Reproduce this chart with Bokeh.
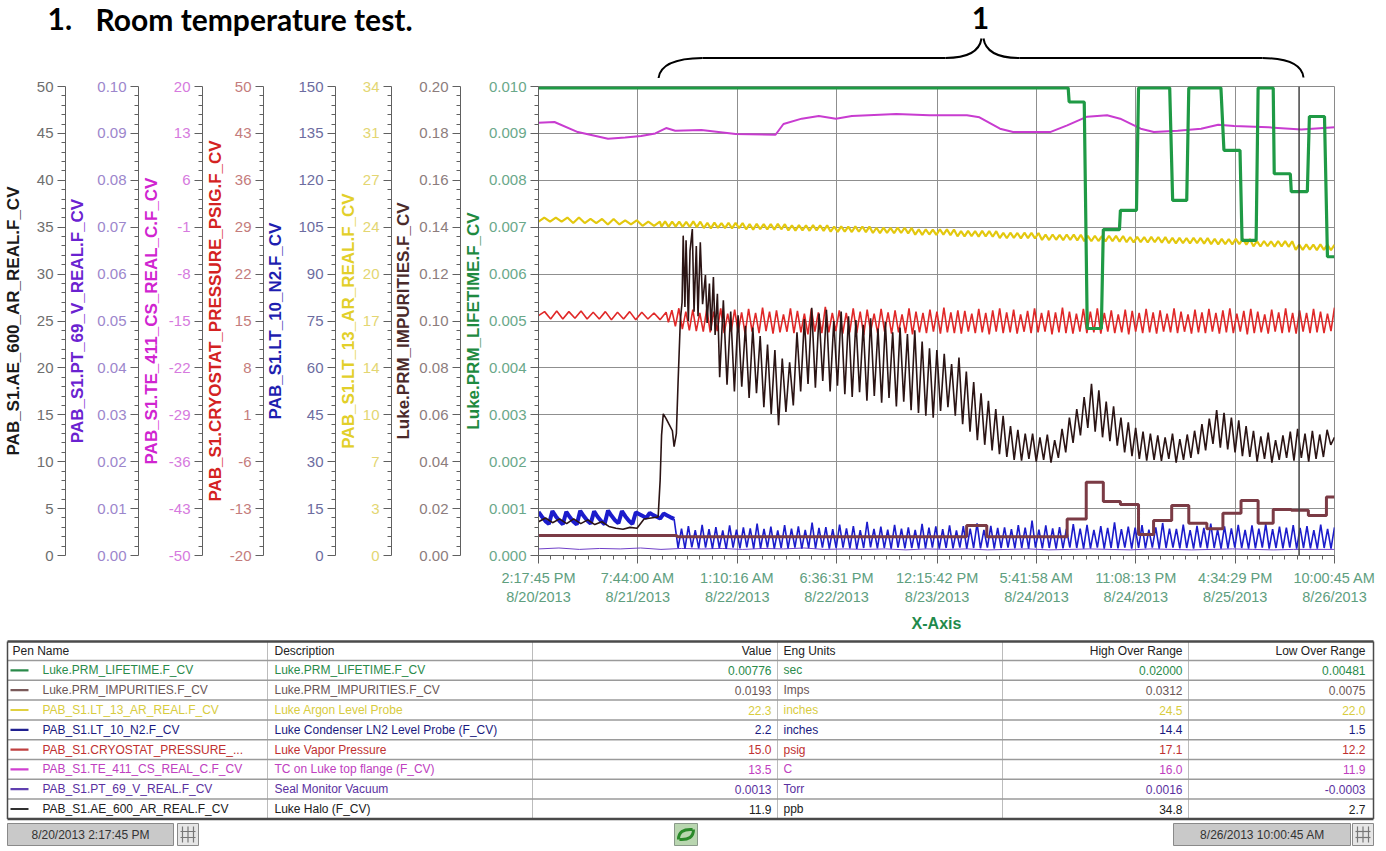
import numpy as np
import pandas as pd
from bokeh.plotting import figure
from bokeh.models import Range1d, LinearAxis, FixedTicker, Span
from bokeh.embed import file_html
from bokeh.resources import INLINE
from bokeh.core.properties import value

# ======================= DATA =======================
tick_times = ["8/20/2013 2:17:45 PM", "8/21/2013 7:44:00 AM", "8/22/2013 1:10:16 AM",
              "8/22/2013 6:36:31 PM", "8/23/2013 12:15:42 PM", "8/24/2013 5:41:58 AM",
              "8/24/2013 11:08:13 PM", "8/25/2013 4:34:29 PM", "8/26/2013 10:00:45 AM"]
cursor_hour = 133.5

ax_names = ["halo", "vac", "tc", "press", "ln2", "ar", "imp", "life"]
ax_titles = ["PAB_S1.AE_600_AR_REAL.F_CV", "PAB_S1.PT_69_V_REAL.F_CV", "PAB_S1.TE_411_CS_REAL_C.F_CV",
             "PAB_S1.CRYOSTAT_PRESSURE_PSIG.F_CV", "PAB_S1.LT_10_N2.F_CV", "PAB_S1.LT_13_AR_REAL.F_CV",
             "Luke.PRM_IMPURITIES.F_CV", "Luke.PRM_LIFETIME.F_CV"]
ax_min = [0, 0.0, -50, -20, 0, 0, 0.0, 0.0]
ax_max = [50, 0.10, 20, 50, 150, 34, 0.20, 0.010]
ax_tick_labels = [
    ["0", "5", "10", "15", "20", "25", "30", "35", "40", "45", "50"],
    ["0.00", "0.01", "0.02", "0.03", "0.04", "0.05", "0.06", "0.07", "0.08", "0.09", "0.10"],
    ["-50", "-43", "-36", "-29", "-22", "-15", "-8", "-1", "6", "13", "20"],
    ["-20", "-13", "-6", "1", "8", "15", "22", "29", "36", "43", "50"],
    ["0", "15", "30", "45", "60", "75", "90", "105", "120", "135", "150"],
    ["0", "3", "7", "10", "14", "17", "20", "24", "27", "31", "34"],
    ["0.00", "0.02", "0.04", "0.06", "0.08", "0.10", "0.12", "0.14", "0.16", "0.18", "0.20"],
    ["0.000", "0.001", "0.002", "0.003", "0.004", "0.005", "0.006", "0.007", "0.008", "0.009", "0.010"],
]

# Luke.PRM_LIFETIME.F_CV  (sec)
life_h = [0.0, 92.97, 93.14, 95.79, 96.32, 98.79, 99.14, 101.97, 102.14, 104.96, 105.32, 110.79,
          111.31, 113.78, 114.14, 119.78, 120.31, 123.13, 123.49, 125.96, 126.31, 128.96, 129.14,
          131.96, 132.13, 134.95, 135.31, 137.96, 138.48, 139.71]
life_v = [0.00997, 0.00997, 0.00967, 0.00967, 0.00484, 0.00484, 0.00695, 0.00695, 0.00736, 0.00736,
          0.00997, 0.00997, 0.00757, 0.00757, 0.00997, 0.00997, 0.00864, 0.00864, 0.00672, 0.00672,
          0.00997, 0.00997, 0.00814, 0.00814, 0.00776, 0.00776, 0.00936, 0.00936, 0.00637, 0.00637]

# Luke.PRM_IMPURITIES.F_CV  (Imps)
imp_h = [0.0, 24.3, 75.15, 78.68, 92.79, 96.14, 99.14, 102.14, 105.32, 107.96, 111.14, 114.14,
         117.31, 120.13, 123.31, 126.31, 128.96, 132.13, 135.13, 138.3, 139.71]
imp_v = [0.0085, 0.0080, 0.0128, 0.0080, 0.0156, 0.0312, 0.0230, 0.0217, 0.0090, 0.0149, 0.0213,
         0.0138, 0.0114, 0.0180, 0.0235, 0.0138, 0.0196, 0.0193, 0.0171, 0.0249, 0.0249]

# PAB_S1.TE_411_CS_REAL_C.F_CV  (C)
tc_h = [0.0, 2.8, 6.9, 12.2, 15.2, 18.0, 20.5, 22.4, 24.0, 28.6, 34.6, 41.6, 43.0, 46.2, 49.2, 52.2,
        55.0, 62.8, 68.6, 75.2, 77.4, 81.0, 83.3, 89.8, 92.8, 96.3, 99.8, 102.1, 105.7, 108.0, 112.2,
        116.3, 119.3, 122.1, 128.1, 133.9, 139.71]
tc_v = [14.6, 14.7, 13.2, 12.2, 12.4, 12.6, 13.0, 13.8, 13.4, 13.5, 12.9, 12.8, 14.4, 15.2, 15.6, 15.2,
        15.6, 15.9, 15.7, 15.7, 15.4, 13.7, 13.2, 13.2, 14.2, 15.5, 15.7, 15.2, 13.7, 13.2, 13.4,
        13.7, 14.3, 14.1, 13.9, 13.6, 13.9]

# PAB_S1.PT_69_V_REAL.F_CV  (Torr), evenly sampled over the whole span
vac_v = [0.0014, 0.0016, 0.0013, 0.0015, 0.0014, 0.0016, 0.0013, 0.0015, 0.0014, 0.0015,
         0.0013, 0.0015, 0.0014, 0.0016, 0.0013, 0.0014, 0.0013, 0.0014, 0.0012, 0.0014,
         0.0013, 0.0014, 0.0012, 0.0013, 0.0014, 0.0012, 0.0013, 0.0014, 0.0013, 0.0012,
         0.0014, 0.0013, 0.0012, 0.0013, 0.0014, 0.0013, 0.0012, 0.0013, 0.0013, 0.0013]

# PAB_S1.CRYOSTAT_PRESSURE_PSIG.F_CV  (psig)
press_a_span = (0.0, 22.4)
press_a = [15.8, 16.4, 15.3, 16.5, 15.3, 16.4, 15.4, 16.5, 15.3, 16.3, 15.3, 16.4, 15.2, 16.3, 15.3,
           16.4, 15.2, 16.3, 15.3, 16.2, 15.2, 16.3]
press_b_span = (22.8, 139.71)
press_b = [14.8, 16.6, 14.2, 16.9, 13.8, 16.4, 13.6, 16.7, 13.5, 16.2, 13.4, 16.8,
           13.3, 16.4, 13.5, 16.9, 13.2, 16.1, 13.4, 16.7, 13.3, 16.3, 13.1, 16.8,
           13.4, 16.2, 13.2, 17.0, 13.5, 16.4, 13.1, 16.6, 13.3, 16.0, 13.4, 16.9,
           13.2, 16.5, 13.3, 16.1, 13.0, 16.8, 13.4, 16.3, 13.2, 17.1, 13.3, 16.2,
           13.5, 16.6, 13.1, 16.2, 13.3, 16.9, 13.2, 16.4, 12.9, 16.7, 13.4, 16.1,
           13.2, 16.8, 13.4, 16.3, 13.1, 16.6, 13.3, 16.0, 13.2, 16.9, 13.0, 16.4,
           13.3, 16.2, 13.2, 16.7, 13.4, 16.4, 13.1, 17.0, 13.3, 16.3, 13.2, 16.6,
           13.1, 16.5, 13.4, 16.1, 13.2, 16.8, 13.3, 16.2, 13.0, 16.6, 13.4, 16.9,
           13.2, 16.3, 13.3, 16.7, 13.1, 16.0, 13.4, 16.5, 13.2, 16.9, 13.3, 16.2,
           13.4, 16.6, 13.0, 16.3, 13.3, 17.0, 13.2, 16.4, 13.1, 16.1, 13.4, 16.8,
           13.2, 16.4, 13.3, 16.9, 13.1, 16.2, 13.4, 16.6, 13.2, 16.0, 13.3, 16.7,
           13.0, 16.5, 13.4, 16.2, 13.2, 16.8, 13.3, 16.3, 13.1, 16.6, 13.4, 16.1,
           13.3, 16.9, 13.2, 16.4, 13.4, 16.0, 13.1, 16.7, 13.3, 16.3, 13.2, 16.8,
           13.4, 16.2, 13.1, 16.6, 13.3, 16.9, 13.2, 16.1, 13.4, 16.5, 13.0, 16.8,
           13.2, 16.4, 13.3, 16.0, 13.1, 16.7, 13.4, 16.3, 13.2, 16.9, 13.3, 16.2,
           13.1, 16.6, 13.4, 16.2, 13.2, 16.8, 13.3, 16.4, 13.2, 16.1, 13.5, 17.0]

# PAB_S1.LT_13_AR_REAL.F_CV  (inches)
ar_a_span = (0.0, 21.3)
ar_a = [24.2, 24.5, 24.2, 24.5, 24.2, 24.5, 24.1, 24.5, 24.1, 24.4, 24.1, 24.4, 24.0, 24.4, 24.0,
        24.3, 24.0, 24.3, 23.9, 24.2, 23.9, 24.2]
ar_b_span = (21.6, 139.71)
ar_b = [23.84, 24.22, 23.82, 24.20, 23.85, 24.21, 23.82, 24.19, 23.83, 24.22, 23.81, 24.20,
        23.74, 24.12, 23.72, 24.13, 23.75, 24.10, 23.73, 24.12, 23.71, 24.11, 23.74, 24.10,
        23.65, 24.03, 23.63, 24.04, 23.66, 24.02, 23.64, 24.03, 23.62, 24.04, 23.65, 24.02,
        23.56, 23.94, 23.55, 23.95, 23.57, 23.93, 23.54, 23.95, 23.56, 23.94, 23.53, 23.93,
        23.47, 23.85, 23.46, 23.86, 23.48, 23.84, 23.45, 23.86, 23.47, 23.85, 23.44, 23.84,
        23.38, 23.76, 23.37, 23.77, 23.39, 23.75, 23.36, 23.77, 23.38, 23.76, 23.35, 23.75,
        23.26, 23.64, 23.25, 23.65, 23.27, 23.63, 23.24, 23.65, 23.26, 23.64, 23.23, 23.63,
        23.14, 23.52, 23.13, 23.53, 23.15, 23.51, 23.12, 23.53, 23.14, 23.52, 23.11, 23.51,
        23.01, 23.39, 23.00, 23.40, 23.02, 23.38, 22.99, 23.40, 23.01, 23.39, 22.98, 23.38,
        22.88, 23.26, 22.87, 23.27, 22.89, 23.25, 22.86, 23.27, 22.88, 23.26, 22.85, 23.25,
        22.79, 23.17, 22.78, 23.18, 22.80, 23.16, 22.77, 23.18, 22.79, 23.17, 22.76, 23.16,
        22.71, 23.09, 22.70, 23.10, 22.72, 23.08, 22.69, 23.10, 22.71, 23.09, 22.68, 23.08,
        22.64, 23.02, 22.63, 23.03, 22.65, 23.01, 22.62, 23.03, 22.64, 23.02, 22.61, 23.01,
        22.57, 22.95, 22.56, 22.96, 22.58, 22.94, 22.55, 22.96, 22.57, 22.95, 22.54, 22.94,
        22.41, 22.79, 22.40, 22.80, 22.42, 22.78, 22.39, 22.80, 22.41, 22.79, 22.38, 22.78,
        22.16, 22.54, 22.15, 22.55, 22.17, 22.53, 22.14, 22.55, 22.16, 22.54, 22.13, 22.53]

# PAB_S1.LT_10_N2.F_CV  (inches)
ln2_a_span = (0.0, 23.8)
ln2_a = [13.9, 12.4, 11.0, 10.1, 14.2, 12.5, 11.1, 10.0, 14.0, 12.3, 10.9, 9.9, 14.3, 12.6, 11.2, 10.2,
         14.1, 12.4, 11.0, 10.0, 14.4, 12.7, 11.3, 10.3, 14.2, 12.5, 11.1, 10.1, 13.8, 13.2, 12.6, 12.0,
         13.6, 12.9, 12.4, 11.8, 13.4, 12.8, 12.2, 11.7]
ln2_b_span = (24.5, 139.71)
ln2_b = [2.4, 8.6, 2.2, 9.4, 2.6, 8.1, 2.3, 9.8, 2.5, 8.4, 2.2, 9.1,
         2.4, 8.0, 2.1, 9.6, 2.5, 8.3, 2.3, 9.0, 2.6, 8.7, 2.2, 10.2,
         2.3, 8.5, 2.5, 9.2, 2.2, 8.0, 2.4, 9.7, 2.3, 8.6, 2.5, 9.3,
         2.2, 8.2, 2.4, 10.5, 2.3, 8.8, 2.5, 9.1, 2.2, 8.4, 2.4, 9.9,
         2.5, 8.7, 2.3, 9.4, 2.1, 8.1, 2.4, 10.8, 2.6, 8.5, 2.3, 9.2,
         2.4, 8.3, 2.2, 9.8, 2.5, 8.6, 2.3, 9.0, 2.4, 8.2, 2.2, 10.1,
         2.3, 8.9, 2.5, 9.3, 2.2, 8.4, 2.4, 9.6, 2.3, 8.0, 2.5, 9.4,
         2.2, 8.6, 2.4, 10.3, 2.3, 8.2, 2.5, 9.5, 2.2, 8.8, 2.4, 9.0,
         2.5, 8.4, 2.3, 9.7, 2.4, 8.9, 2.2, 11.2, 2.5, 8.3, 2.3, 9.6,
         2.4, 8.7, 2.2, 9.1, 2.3, 8.5, 2.5, 10.0, 2.4, 8.6, 2.2, 9.8,
         2.3, 8.2, 2.5, 9.4, 2.2, 8.8, 2.4, 10.6, 2.3, 8.4, 2.5, 9.2,
         2.2, 8.9, 2.4, 9.7, 2.3, 8.3, 2.5, 9.0, 2.2, 10.4, 2.4, 8.6,
         2.5, 8.5, 2.3, 9.9, 2.4, 8.1, 2.2, 9.5, 2.5, 8.8, 2.3, 10.2,
         2.4, 8.3, 2.2, 9.3, 2.3, 8.7, 2.5, 9.8, 2.4, 8.2, 2.2, 9.6,
         2.3, 8.6, 2.5, 10.1, 2.2, 8.4, 2.4, 9.2, 2.3, 8.9, 2.5, 9.7,
         2.2, 8.8, 2.4, 9.4, 2.3, 8.1, 2.2, 9.9, 2.4, 8.5, 2.2, 9.0]

# PAB_S1.AE_600_AR_REAL.F_CV  (ppb)
halo_a_span = (0.0, 21.0)
halo_a = [3.6, 4.0, 3.5, 3.9, 3.4, 3.9, 3.4, 3.8, 3.3, 3.6, 3.1, 2.9, 2.8, 3.0, 2.9, 3.9, 4.0, 4.1]
halo_r_h = [21.35, 21.6, 21.9, 22.4, 22.9, 23.5, 23.8, 24.2, 24.5, 24.9, 25.2, 25.4, 25.7, 25.9, 26.3,
            26.6, 27.0, 27.3, 27.7, 28.0, 28.4, 28.8, 29.3, 29.6, 30.0, 30.3, 30.7, 31.0, 31.4]
halo_r_v = [8.0, 12.8, 15.1, 14.6, 14.0, 13.3, 11.6, 13.0, 18.5, 25.1, 27.0, 34.1, 26.5, 33.6, 25.0,
            32.5, 34.8, 26.0, 33.0, 25.5, 33.4, 26.8, 29.9, 24.8, 29.0, 24.0, 29.7, 23.5, 27.9]
halo_c_span = (31.8, 139.71)
halo_c = [19.0, 27.2, 18.2, 26.0, 17.5, 25.6, 18.0, 24.5, 16.8, 24.3, 17.3, 23.4,
          15.8, 22.5, 15.1, 21.9, 13.9, 21.0, 15.3, 20.6, 16.0, 23.8, 17.5, 25.2,
          18.3, 26.4, 17.9, 25.8, 18.6, 26.2, 17.5, 25.0, 18.1, 26.0, 17.2, 25.5,
          16.9, 25.1, 17.4, 24.6, 16.5, 25.3, 17.0, 24.2, 16.3, 24.9, 16.8, 23.8,
          15.9, 24.3, 16.4, 23.6, 15.5, 24.0, 15.2, 22.8, 14.9, 22.1, 14.7, 21.9,
          15.4, 21.5, 15.8, 20.4, 14.9, 21.1, 14.0, 19.6, 13.2, 18.5, 12.3, 17.3,
          11.8, 16.5, 11.2, 15.6, 10.8, 14.9, 10.5, 13.8, 10.2, 13.4, 10.1, 13.0,
          10.3, 13.0, 10.0, 12.6, 10.2, 12.9, 9.9, 12.3, 10.4, 13.5, 11.0, 14.7,
          12.0, 15.6, 12.8, 16.9, 13.6, 18.3, 13.2, 17.6, 12.6, 16.4, 12.2, 15.9,
          11.7, 14.7, 11.0, 14.2, 10.6, 13.6, 10.3, 13.2, 10.1, 13.0, 10.2, 12.8,
          10.1, 12.6, 10.3, 13.0, 9.9, 12.4, 10.2, 12.9, 10.4, 13.3, 10.8, 14.0,
          11.2, 14.6, 11.9, 15.5, 11.5, 15.2, 11.3, 14.7, 11.0, 14.4, 10.6, 13.8,
          10.5, 13.3, 10.0, 12.7, 10.3, 13.1, 9.9, 12.3, 10.2, 12.8, 10.4, 13.2,
          10.1, 13.5, 10.4, 13.0, 10.0, 13.3, 10.3, 12.9, 10.5, 13.4, 11.8, 12.6]

# Pen table
pen_names = ["Luke.PRM_LIFETIME.F_CV", "Luke.PRM_IMPURITIES.F_CV", "PAB_S1.LT_13_AR_REAL.F_CV",
             "PAB_S1.LT_10_N2.F_CV", "PAB_S1.CRYOSTAT_PRESSURE_...", "PAB_S1.TE_411_CS_REAL_C.F_CV",
             "PAB_S1.PT_69_V_REAL.F_CV", "PAB_S1.AE_600_AR_REAL.F_CV"]
descriptions = ["Luke.PRM_LIFETIME.F_CV", "Luke.PRM_IMPURITIES.F_CV", "Luke Argon Level Probe",
                "Luke Condenser LN2 Level Probe (F_CV)", "Luke Vapor Pressure",
                "TC on Luke top flange (F_CV)", "Seal Monitor Vacuum", "Luke Halo (F_CV)"]
cur_values = ["0.00776", "0.0193", "22.3", "2.2", "15.0", "13.5", "0.0013", "11.9"]
eng_units = ["sec", "Imps", "inches", "inches", "psig", "C", "Torr", "ppb"]
high_over = ["0.02000", "0.0312", "24.5", "14.4", "17.1", "16.0", "0.0016", "34.8"]
low_over = ["0.00481", "0.0075", "22.0", "1.5", "12.2", "11.9", "-0.0003", "2.7"]
headers = ["Pen Name", "Description", "Value", "Eng Units", "High Over Range", "Low Over Range"]

# ======================= STYLES =======================
FONT = "Liberation Sans"
ax_label_colors = ["#6e6e6e", "#9c86cc", "#d67ade", "#c47c7c", "#6c6ca0", "#e3d672", "#8c7c7c", "#6aa88a"]
ax_title_colors = ["#1a1a1a", "#6a22d0", "#d024d0", "#d42222", "#1e1eb0", "#e2cf2a", "#4a2a2a", "#1e8a40"]
ax_standoffs = [11, 7, 5, 2, 10, 2, 3, 3]

C_LIFE, C_IMP, C_AR, C_LN2 = "#1f9a45", "#7b3b45", "#e3c80e", "#1c1ccc"
C_PRESS, C_TC, C_VAC, C_HALO = "#e02828", "#c83cd0", "#7040c8", "#2b1414"
row_text_colors = ["#2a8a4a", "#6a5555", "#d8cc40", "#1a1a80", "#c03030", "#c040c0", "#5a30a0", "#202020"]
row_swatch_colors = ["#2a8a4a", "#7a5a5a", "#e0d040", "#202090", "#c04040", "#d040d0", "#6040b0", "#303030"]

# ======================= DERIVED =======================
tt = pd.to_datetime(tick_times, format="%m/%d/%Y %I:%M:%S %p")
tick_hours = [float(v) for v in (tt - tt[0]).total_seconds() / 3600.0]
tick_text = [s.split(" ", 1)[1] + "\n" + s.split(" ", 1)[0] for s in tick_times]
t_end = tick_hours[-1]


def span_x(span, vals):
    return np.linspace(span[0], span[1], len(vals))


W = 1386

# ======================= HEADER FIGURE =======================
hdr = figure(width=W, height=78, x_range=Range1d(0, W), y_range=Range1d(78, 0),
             output_backend="svg", toolbar_location=None, min_border=0,
             x_axis_location=None, y_axis_location=None)
hdr.grid.visible = False
hdr.outline_line_color = None
hdr.text(x=[47, 95], y=[18, 18], text=["1.", "Room temperature test."],
         text_font=value("Lato"), text_font_style="bold", text_font_size="30px",
         text_baseline="middle", text_color="black")
hdr.text(x=[980], y=[17], text=["1"], text_font=value("Lato"), text_font_style="bold",
         text_font_size="30px", text_baseline="middle", text_align="center", text_color="black")
hdr.quadratic(x0=[658, 945, 983, 1262], y0=[78, 57.5, 38, 57.5],
              x1=[702, 981, 1019, 1303], y1=[57.5, 38, 57.5, 77],
              cx=[660, 978, 986, 1301], cy=[58, 57.5, 57.5, 58], line_color="black", line_width=2)
hdr.segment(x0=[702, 1019], y0=[57.5, 57.5], x1=[945, 1262], y1=[57.5, 57.5],
            line_color="black", line_width=2)

# ======================= MAIN FIGURE =======================
p = figure(width=W, height=560, x_range=Range1d(0, t_end), y_range=Range1d(ax_min[7], ax_max[7]),
           output_backend="svg", toolbar_location=None, min_border_left=0, min_border_right=52,
           min_border_top=8, min_border_bottom=83)
p.outline_line_color = "#8a8a8a"
p.extra_y_ranges = {ax_names[i]: Range1d(ax_min[i], ax_max[i]) for i in range(7)}


def style_axis(ax, i):
    lo, hi = ax_min[i], ax_max[i]
    ticks = [float(v) for v in np.linspace(lo, hi, 11)]
    minor = [float(lo + (hi - lo) * k / 50.0) for k in range(51) if k % 5 != 0]
    ax.ticker = FixedTicker(ticks=ticks, minor_ticks=minor)
    ax.major_label_overrides = {t: l for t, l in zip(ticks, ax_tick_labels[i])}
    ax.axis_label = ax_titles[i]
    ax.axis_label_text_font = FONT
    ax.axis_label_text_font_style = "bold"
    ax.axis_label_text_font_size = "17px"
    ax.axis_label_text_color = ax_title_colors[i]
    ax.axis_label_standoff = ax_standoffs[i]
    ax.major_label_text_font = FONT
    ax.major_label_text_font_size = "15px"
    ax.major_label_text_color = ax_label_colors[i]
    ax.major_label_standoff = 4
    ax.major_tick_out = 8
    ax.major_tick_in = 0
    ax.minor_tick_out = 4
    ax.minor_tick_in = 0
    ax.axis_line_color = "#606060"
    ax.major_tick_line_color = "#606060"
    ax.minor_tick_line_color = "#606060"


style_axis(p.yaxis[0], 7)
for i in [6, 5, 4, 3, 2, 1, 0]:
    ax = LinearAxis(y_range_name=ax_names[i])
    style_axis(ax, i)
    p.add_layout(ax, "left")

xa = p.xaxis[0]
minor_x = []
for a, b in zip(tick_hours[:-1], tick_hours[1:]):
    minor_x += [a + (b - a) * k / 8.0 for k in range(1, 8)]
xa.ticker = FixedTicker(ticks=tick_hours, minor_ticks=minor_x)
xa.major_label_overrides = {h: s for h, s in zip(tick_hours, tick_text)}
xa.major_label_text_font = FONT
xa.major_label_text_font_size = "14.5px"
xa.major_label_text_color = "#5e9e7e"
xa.major_label_standoff = 6
xa.major_tick_out = 8
xa.major_tick_in = 0
xa.minor_tick_out = 4
xa.minor_tick_in = 0
xa.axis_line_color = "#606060"
xa.major_tick_line_color = "#606060"
xa.minor_tick_line_color = "#606060"
xa.axis_label = "X-Axis"
xa.axis_label_text_font = FONT
xa.axis_label_text_font_style = "bold"
xa.axis_label_text_font_size = "16px"
xa.axis_label_text_color = "#1f8a4c"
xa.axis_label_standoff = 7

p.xgrid.grid_line_color = "#8f8f8f"
p.ygrid.grid_line_color = "#8f8f8f"

# series (bottom to top)
p.line(span_x((0.0, t_end), vac_v), vac_v, y_range_name="vac", line_color=C_VAC, line_width=1)
p.line(tc_h, tc_v, y_range_name="tc", line_color=C_TC, line_width=2)
p.line(np.concatenate([span_x(ar_a_span, ar_a), span_x(ar_b_span, ar_b)]), ar_a + ar_b,
       y_range_name="ar", line_color=C_AR, line_width=2.2)
p.line(np.concatenate([span_x(press_a_span, press_a), span_x(press_b_span, press_b)]), press_a + press_b,
       y_range_name="press", line_color=C_PRESS, line_width=1.6)
ln2_ax = span_x(ln2_a_span, ln2_a)
p.line(ln2_ax, ln2_a, y_range_name="ln2", line_color=C_LN2, line_width=4)
p.line(np.concatenate([ln2_ax[-1:], span_x(ln2_b_span, ln2_b)]), ln2_a[-1:] + ln2_b,
       y_range_name="ln2", line_color=C_LN2, line_width=1.6)
p.line(np.concatenate([span_x(halo_a_span, halo_a), halo_r_h, span_x(halo_c_span, halo_c)]),
       halo_a + halo_r_v + halo_c, y_range_name="halo", line_color=C_HALO, line_width=1.6)
p.step(imp_h, imp_v, mode="after", y_range_name="imp", line_color=C_IMP, line_width=3)
p.line(life_h, life_v, line_color=C_LIFE, line_width=3.2)

p.add_layout(Span(location=cursor_hour, dimension="height", line_color="#444444", line_width=1.5))

# ======================= TABLE FIGURE =======================
tb = figure(width=W, height=211, x_range=Range1d(0, W), y_range=Range1d(849, 638),
            output_backend="svg", toolbar_location=None, min_border=0,
            x_axis_location=None, y_axis_location=None)
tb.grid.visible = False
tb.outline_line_color = None

col_edges = [7, 267, 532, 777, 1002, 1188, 1373]
top, head_bot, row_h = 641, 660, 19.8
n = len(pen_names)
row_tops = [head_bot + row_h * k for k in range(n)]
bot = head_bot + row_h * n
row_mid = [rt + row_h / 2 for rt in row_tops]

tb.segment(x0=col_edges[1:-1], y0=[top] * 5, x1=col_edges[1:-1], y1=[bot] * 5, line_color="#bcbcbc", line_width=1)
tb.segment(x0=[col_edges[0]] * n, y0=row_tops, x1=[col_edges[-1]] * n, y1=row_tops, line_color="#9a9a9a", line_width=1.5)
tb.segment(x0=[col_edges[0], col_edges[0]], y0=[top, bot], x1=[col_edges[-1], col_edges[-1]], y1=[top, bot],
           line_color="#4a4a4a", line_width=2.5)
tb.segment(x0=[col_edges[0], col_edges[-1]], y0=[top, top], x1=[col_edges[0], col_edges[-1]], y1=[bot, bot],
           line_color="#4a4a4a", line_width=1.5)

hy = (top + head_bot) / 2
txt = dict(text_font=value(FONT), text_font_size="12px", text_baseline="middle")
tb.text(x=[12, 274], y=[hy, hy], text=headers[:2], text_color="#222222", text_align="left", **txt)
tb.text(x=[771], y=[hy], text=[headers[2]], text_color="#222222", text_align="right", **txt)
tb.text(x=[783], y=[hy], text=[headers[3]], text_color="#222222", text_align="left", **txt)
tb.text(x=[1182, 1365], y=[hy, hy], text=headers[4:], text_color="#222222", text_align="right", **txt)

tb.segment(x0=[10] * n, y0=row_mid, x1=[28] * n, y1=row_mid, line_color=row_swatch_colors, line_width=2.2)
tb.text(x=[42] * n, y=row_mid, text=pen_names, text_color=row_text_colors, text_align="left", **txt)
tb.text(x=[274] * n, y=row_mid, text=descriptions, text_color=row_text_colors, text_align="left", **txt)
tb.text(x=[771] * n, y=row_mid, text=cur_values, text_color=row_text_colors, text_align="right", **txt)
tb.text(x=[783] * n, y=row_mid, text=eng_units, text_color=row_text_colors, text_align="left", **txt)
tb.text(x=[1182] * n, y=row_mid, text=high_over, text_color=row_text_colors, text_align="right", **txt)
tb.text(x=[1365] * n, y=row_mid, text=low_over, text_color=row_text_colors, text_align="right", **txt)

# bottom bar
tb.quad(left=[7, 1173], right=[173, 1350], top=[823, 823], bottom=[845, 845],
        fill_color="#c9c9c9", line_color="#8a8a8a", line_width=1)
tb.text(x=[90, 1262], y=[834, 834], text=[tick_times[0], tick_times[-1]], text_color="#333333",
        text_align="center", **txt)
tb.quad(left=[177, 1352], right=[198, 1373], top=[823, 823], bottom=[845, 845],
        fill_color="#e6e6e6", line_color="#8a8a8a", line_width=1)
tb.segment(x0=[182, 187.5, 193, 1357, 1362.5, 1368], y0=[826] * 6, x1=[182, 187.5, 193, 1357, 1362.5, 1368],
           y1=[842] * 6, line_color="#777777", line_width=1.2)
tb.segment(x0=[180, 180, 1355, 1355], y0=[831, 837, 831, 837], x1=[195, 195, 1370, 1370], y1=[831, 837, 831, 837],
           line_color="#777777", line_width=1.2)
tb.quad(left=[674], right=[697], top=[823], bottom=[845], fill_color="#b9d6b0", line_color="#8a9a8a")
tb.quadratic(x0=[678, 693], y0=[839, 829], x1=[692, 679], y1=[829, 839], cx=[678, 693], cy=[828, 840],
             line_color="#2a8a2a", line_width=3)

open("out.html", "w").write(file_html([hdr, p, tb], INLINE))
